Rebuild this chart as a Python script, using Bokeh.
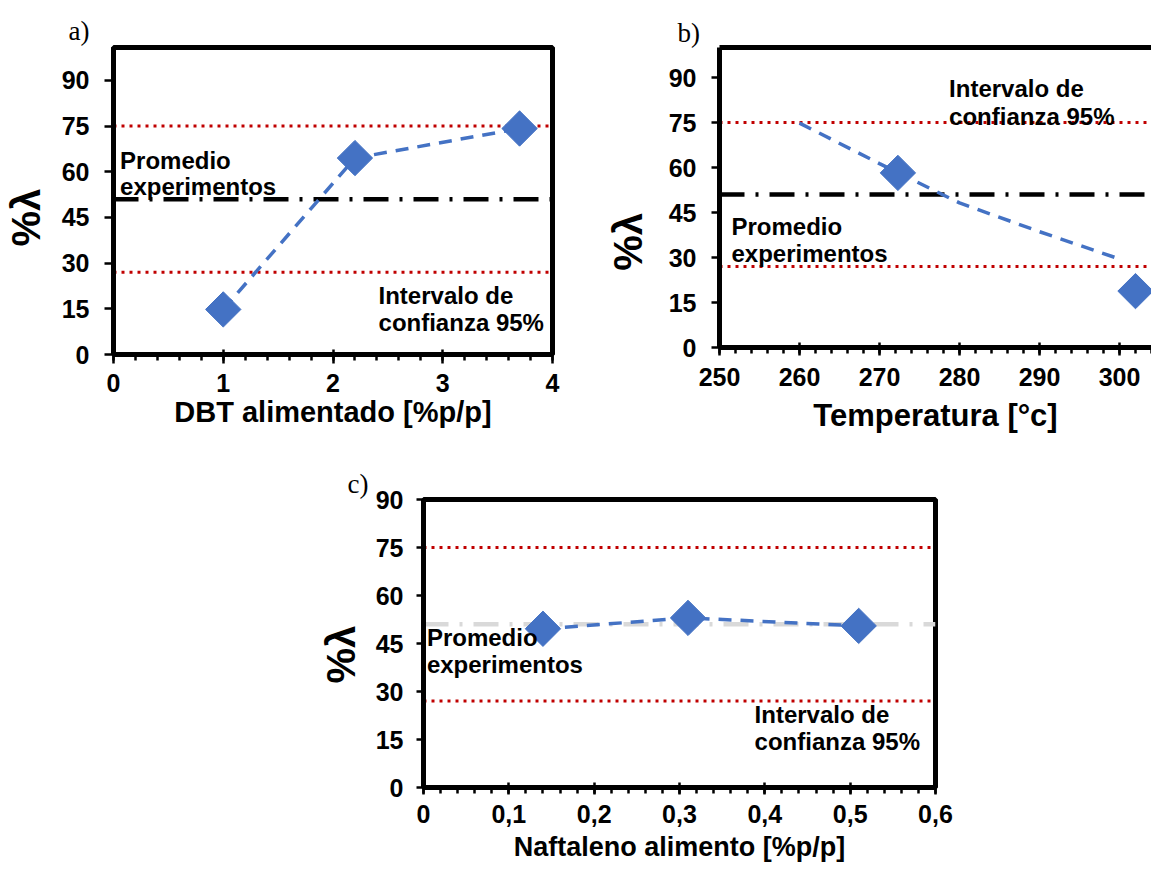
import math
from bokeh.plotting import figure
from bokeh.layouts import column, row
from bokeh.models import (Span, Label, LinearAxis, SingleIntervalTicker, FixedTicker,
                          CustomJSTickFormatter, Range1d)
from bokeh.embed import file_html
from bokeh.resources import INLINE

# ---------------- data ----------------
dbt_fed = [1.0, 2.2, 3.7]
dbt_lambda = [14.8, 64.5, 74.2]

temperature = [272.3, 302.0]
temp_lambda = [58.2, 18.8]
temp_trend_x = [260, 270, 280, 290, 300]
temp_trend_y = [74.8, 61.3, 48.2, 38.6, 29.5]

naph_fed = [0.14, 0.31, 0.51]
naph_lambda = [49.6, 53.0, 50.5]

mean_lambda = 51.0
ci_high = 75.0
ci_low = 27.0

naph_ticks = [0, 0.1, 0.2, 0.3, 0.4, 0.5, 0.6]
naph_tick_labels = ["0", "0,1", "0,2", "0,3", "0,4", "0,5", "0,6"]
panel_tags = ["a)", "b)", "c)"]
x_titles = ["DBT alimentado [%p/p]", "Temperatura [°c]", "Naftaleno alimento [%p/p]"]
y_title = "%λ"
mean_text = ["Promedio", "experimentos"]
ci_text = ["Intervalo de", "confianza 95%"]

# ---------------- style ----------------
FONT = "Liberation Sans"
SERIF = "Liberation Serif"
BLUE = "#4472C4"
RED = "#C00000"
NBSP = "\u00a0"


def make_fig(xr, yr, fw, fh, bl, br, bt, bb, outline=True):
    p = figure(x_range=Range1d(*xr), y_range=Range1d(*yr), frame_width=fw, frame_height=fh,
               min_border_left=bl, min_border_right=br, min_border_top=bt, min_border_bottom=bb,
               output_backend="svg", toolbar_location=None)
    p.grid.visible = False
    p.background_fill_color = "white"
    p.border_fill_color = "white"
    if outline:
        p.outline_line_color = "black"
        p.outline_line_width = 5
    else:
        p.outline_line_color = None
    for ax in (p.xaxis[0], p.yaxis[0]):
        ax.axis_line_color = "black"
        ax.axis_line_width = 5
        ax.major_tick_line_color = "black"
        ax.major_tick_line_width = 2.5
        ax.minor_tick_line_color = "black"
        ax.minor_tick_line_width = 2.5
        ax.major_label_text_font = FONT
        ax.major_label_text_font_style = "bold"
        ax.major_label_text_font_size = "25px"
        ax.major_label_text_color = "black"
        ax.axis_label_text_font = FONT
        ax.axis_label_text_font_style = "bold"
        ax.axis_label_text_color = "black"
    p.yaxis.ticker = SingleIntervalTicker(interval=15, num_minor_ticks=0)
    p.yaxis.major_tick_in = 0
    p.yaxis.major_tick_out = 9
    p.yaxis.major_label_standoff = 15
    p.yaxis.axis_label_text_font_size = "40px"
    p.xaxis.major_tick_in = 5
    p.xaxis.major_tick_out = 9
    p.xaxis.minor_tick_in = 0
    p.xaxis.minor_tick_out = 6
    p.xaxis.major_label_standoff = 10
    p.title.text_font = SERIF
    p.title.text_font_size = "27px"
    p.title.text_font_style = "normal"
    p.title.text_color = "black"
    p.title.align = "left"
    return p


def ref_lines(p, mean_color="black"):
    p.add_layout(Span(location=ci_high, dimension="width", line_color=RED, line_width=3,
                      line_dash="3 5", level="underlay"))
    p.add_layout(Span(location=ci_low, dimension="width", line_color=RED, line_width=3,
                      line_dash="3 5", level="underlay"))
    p.add_layout(Span(location=mean_lambda, dimension="width", line_color=mean_color, line_width=4.5,
                      line_dash="25 11 3 11", level="underlay"))


def txt(p, x, y, s, size=24):
    p.add_layout(Label(x=x, y=y, text=s, text_font=FONT, text_font_size=f"{size}px",
                       text_font_style="bold", text_color="black",
                       text_align="left", text_baseline="alphabetic"))


def series(p, xs, ys, lx=None, ly=None):
    p.line(lx if lx is not None else xs, ly if ly is not None else ys,
           line_color=BLUE, line_width=3.5, line_dash="13 9")
    p.scatter(xs, ys, marker="square", angle=math.pi / 4, size=25,
              fill_color=BLUE, line_color=BLUE)


# ---------------- panel a ----------------
pa = make_fig((0, 4), (0, 100.8), 439, 307, 113, 46, 45, 88)
pa.xaxis.ticker = SingleIntervalTicker(interval=1, num_minor_ticks=5)
pa.xaxis.axis_label = x_titles[0]
pa.xaxis.axis_label_text_font_size = "29px"
pa.xaxis.axis_label_standoff = 1
pa.yaxis.axis_label = y_title + NBSP * 3
pa.yaxis.axis_label_standoff = 11
pa.title.text = panel_tags[0]
pa.title.offset = -45
pa.title.standoff = 3
ref_lines(pa)
series(pa, dbt_fed, dbt_lambda)
txt(pa, 0.06, 63.7, mean_text[0])
txt(pa, 0.06, 55.2, mean_text[1])
txt(pa, 2.415, 19.3, ci_text[0])
txt(pa, 2.415, 10.4, ci_text[1])

# ---------------- panel b ----------------
pb = make_fig((250, 304), (0, 100), 432, 300, 121, 0, 47, 93, outline=False)
pb.xaxis.ticker = SingleIntervalTicker(interval=10, num_minor_ticks=5)
pb.xaxis.axis_label = x_titles[1]
pb.xaxis.axis_label_text_font_size = "31px"
pb.xaxis.axis_label_standoff = 9
pb.xaxis.major_tick_out = 8
pb.xaxis.major_label_standoff = 12
pb.yaxis.major_tick_out = 8
pb.yaxis.axis_label = y_title + NBSP * 8
pb.yaxis.axis_label_standoff = 16
top_axis = LinearAxis(ticker=FixedTicker(ticks=[]), axis_line_color="black", axis_line_width=5,
                      major_tick_out=0, major_tick_in=0, minor_tick_out=0, minor_tick_in=0,
                      major_label_text_font_size="0px", major_label_standoff=0)
pb.add_layout(top_axis, "above")
pb.title.text = panel_tags[1]
pb.title.offset = -42
pb.title.standoff = 0
ref_lines(pb)
series(pb, temperature, temp_lambda, temp_trend_x, temp_trend_y)
txt(pb, 278.7, 86.3, ci_text[0])
txt(pb, 278.7, 77.1, ci_text[1])
txt(pb, 251.5, 40.4, mean_text[0])
txt(pb, 251.5, 31.4, mean_text[1])

# ---------------- panel c ----------------
pc = make_fig((0, 0.6), (0, 90), 512, 288, 423, 30, 59, 82)
pc.xaxis.ticker = FixedTicker(ticks=naph_ticks, minor_ticks=[i / 50 for i in range(31)])
pc.xaxis.formatter = CustomJSTickFormatter(args=dict(labels=naph_tick_labels),
                                           code="const i = Math.round(tick * 10); return labels[i] ?? '';")
pc.xaxis.axis_label = x_titles[2]
pc.xaxis.axis_label_text_font_size = "27px"
pc.xaxis.axis_label_standoff = 6
pc.xaxis.major_tick_out = 7
pc.xaxis.major_label_standoff = 10
pc.yaxis.major_tick_out = 7
pc.yaxis.major_label_standoff = 13
pc.yaxis.axis_label = y_title + NBSP * 2
pc.yaxis.axis_label_standoff = 10
pc.title.text = panel_tags[2]
pc.title.offset = -76
pc.title.standoff = 1
ref_lines(pc, mean_color="#D9D9D9")
series(pc, naph_fed, naph_lambda)
txt(pc, 0.004, 46.9, mean_text[0])
txt(pc, 0.004, 38.4, mean_text[1])
txt(pc, 0.388, 22.8, ci_text[0])
txt(pc, 0.388, 14.4, ci_text[1])

layout = column(row(pa, pb), pc)
open("out.html", "w").write(file_html(layout, INLINE))
